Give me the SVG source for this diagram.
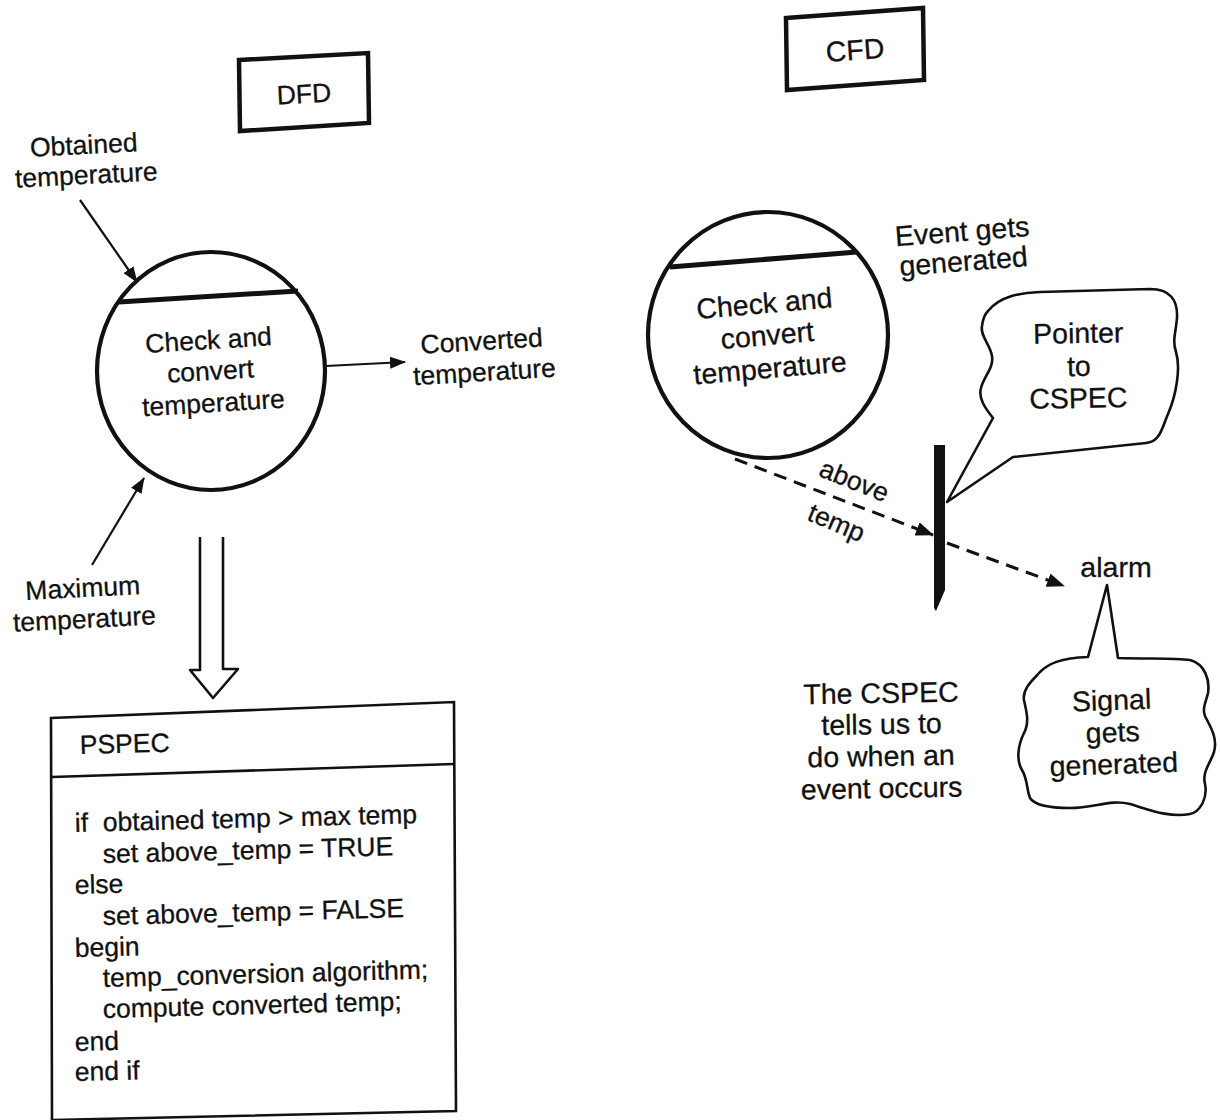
<svg xmlns="http://www.w3.org/2000/svg" width="1220" height="1120" viewBox="0 0 1220 1120">
  <style>
    text { font-family: "Liberation Sans", Arial, Helvetica, sans-serif; fill: #111; stroke: #111; stroke-width: 0.3; }
    .s { font-size: 26.5px; }
    .m { font-size: 28.5px; }
    .c { text-anchor: middle; }
    .ink { fill: none; stroke: #111; stroke-linejoin: round; }
    .box { fill: none; stroke: #111; stroke-width: 4.5; stroke-linejoin: miter; }
    .bubble { fill: none; stroke: #111; stroke-width: 2.6; stroke-linejoin: round; }
    .flow { stroke: #111; stroke-width: 2.2; fill: none; }
    .event { stroke: #111; stroke-width: 3; fill: none; stroke-dasharray: 13 8; }
  </style>
  <defs>
    <marker id="ah" viewBox="0 0 16 12" refX="15" refY="6" markerWidth="16" markerHeight="12" markerUnits="userSpaceOnUse" orient="auto">
      <path d="M0,0 L16,6 L0,12 z" fill="#111"/>
    </marker>
    <marker id="ahd" viewBox="0 0 18 14" refX="17" refY="7" markerWidth="18" markerHeight="14" markerUnits="userSpaceOnUse" orient="auto">
      <path d="M0,0 L18,7 L0,14 z" fill="#111"/>
    </marker>
  </defs>

  <rect x="0" y="0" width="1220" height="1120" fill="#ffffff"/>

  <!-- ===== Left half: data flow diagram ===== -->
  <g id="dfd-title">
    <polygon class="box" points="239,60 368,53 369,123 240,131"/>
    <text class="s c" x="304" y="103" transform="rotate(-3.1 304 95)">DFD</text>
  </g>

  <g id="dfd-obtained-label">
    <text class="s c" transform="rotate(-3 85 170)"><tspan x="85" y="154">Obtained</tspan><tspan x="86" y="184">temperature</tspan></text>
  </g>

  <g id="dfd-process">
    <ellipse class="ink" cx="211" cy="371" rx="114" ry="119" stroke-width="4.2"/>
    <line class="ink" x1="119" y1="302" x2="298" y2="291" stroke-width="5"/>
    <text class="s c" transform="rotate(-3.5 211 380)"><tspan x="211" y="349">Check and</tspan><tspan x="211" y="380">convert</tspan><tspan x="212" y="412">temperature</tspan></text>
  </g>

  <g id="dfd-converted-label">
    <text class="s c" transform="rotate(-3.5 483 365)"><tspan x="483" y="350">Converted</tspan><tspan x="484" y="381">temperature</tspan></text>
  </g>

  <g id="dfd-maximum-label">
    <text class="s c" transform="rotate(-3 84 612)"><tspan x="84" y="597">Maximum</tspan><tspan x="84" y="628">temperature</tspan></text>
  </g>

  <g id="pspec">
    <polygon points="51,718 454,702 456,1111 52,1120" fill="none" stroke="#111" stroke-width="2.6"/>
    <line x1="52" y1="777" x2="454" y2="764" stroke="#111" stroke-width="2.6"/>
    <text class="s" x="80" y="754" transform="rotate(-1.5 80 754)">PSPEC</text>
    <g class="s">
      <text x="75" y="832" transform="rotate(-1.5 75 832)" xml:space="preserve">if  obtained temp &gt; max temp</text>
      <text x="103" y="863" transform="rotate(-1.5 103 863)">set above_temp = TRUE</text>
      <text x="75" y="894" transform="rotate(-1.5 75 894)">else</text>
      <text x="103" y="925" transform="rotate(-1.5 103 925)">set above_temp = FALSE</text>
      <text x="75" y="957" transform="rotate(-1.5 75 957)">begin</text>
      <text x="103" y="987" transform="rotate(-1.5 103 987)">temp_conversion algorithm;</text>
      <text x="103" y="1018" transform="rotate(-1.5 103 1018)">compute converted temp;</text>
      <text x="75" y="1051" transform="rotate(-1.5 75 1051)">end</text>
      <text x="75" y="1081" transform="rotate(-1.5 75 1081)">end if</text>
    </g>
  </g>

  <!-- ===== Right half: control flow diagram ===== -->
  <g id="cfd-title">
    <polygon class="box" points="786,18 923,8 924,80 787,90"/>
    <text class="m c" x="855" y="60" transform="rotate(-4.2 855 50)">CFD</text>
  </g>

  <g id="cfd-event-label">
    <text class="m c" transform="rotate(-4.5 964 255)"><tspan x="964" y="241">Event gets</tspan><tspan x="963" y="271">generated</tspan></text>
  </g>

  <g id="cfd-process">
    <ellipse class="ink" cx="768" cy="335" rx="120" ry="123" stroke-width="4.2"/>
    <line class="ink" x1="670" y1="267" x2="857" y2="252" stroke-width="5"/>
    <text class="m c" transform="rotate(-5 768 345)"><tspan x="768" y="313">Check and</tspan><tspan x="768" y="345">convert</tspan><tspan x="768" y="378">temperature</tspan></text>
  </g>

  <g id="cspec-bar">
    <polygon points="934,445 945,445 945,590 936,611 934,608" fill="#111"/>
  </g>

  <g id="pointer-note">
    <path class="bubble" d="M988,311 C1000,296 1020,293 1040,292 L1150,289 C1170,289 1178,300 1177,318 C1176,332 1172,340 1176,352 C1181,368 1176,396 1168,414 C1162,428 1160,442 1146,443 L1013,457 L947,502 L993,418 C985,408 978,398 981,388 C984,376 994,368 992,356 C990,344 980,336 982,326 C983,318 985,314 988,311 Z"/>
    <text class="m c" transform="rotate(-1 1079 375)"><tspan x="1079" y="343">Pointer</tspan><tspan x="1079" y="376">to</tspan><tspan x="1078" y="408">CSPEC</tspan></text>
  </g>

  <g id="event-label">
    <text class="s c" x="851" y="489" transform="rotate(22 851 489)">above</text>
    <text class="s c" x="833" y="531" transform="rotate(23 833 531)">temp</text>
  </g>

  <g id="alarm-label">
    <text class="m c" x="1116" y="577">alarm</text>
  </g>

  <g id="signal-note">
    <path class="bubble" d="M1088,657 L1107,585 L1118,658 C1150,659 1175,658 1190,660 C1205,664 1210,680 1208,693 C1206,702 1202,708 1205,716 C1210,726 1218,738 1214,752 C1210,764 1202,772 1205,784 C1208,798 1200,812 1190,814 C1170,818 1150,810 1130,804 C1110,799 1095,808 1070,808 C1050,808 1035,806 1030,798 C1026,788 1028,780 1022,770 C1016,760 1018,745 1024,733 C1030,722 1026,710 1024,700 C1022,688 1035,678 1040,672 C1048,664 1060,658 1088,657 Z"/>
    <text class="m c" transform="rotate(-2 1113 742)"><tspan x="1113" y="710">Signal</tspan><tspan x="1113" y="742">gets</tspan><tspan x="1113" y="774">generated</tspan></text>
  </g>

  <g id="cspec-note">
    <text class="m c" transform="rotate(-1 882 750)"><tspan x="882" y="703">The CSPEC</tspan><tspan x="882" y="734">tells us to</tspan><tspan x="881" y="766">do when an</tspan><tspan x="881" y="798">event occurs</tspan></text>
  </g>

  <!-- ===== Connectors ===== -->
  <g id="connectors">
    <line class="flow" x1="80" y1="200" x2="137" y2="282" marker-end="url(#ah)"/>
    <line class="flow" x1="92" y1="565" x2="144" y2="478" marker-end="url(#ah)"/>
    <line class="flow" x1="326" y1="366" x2="405" y2="362" stroke-width="2.6" marker-end="url(#ah)"/>
    <!-- refinement arrow from process to its specification -->
    <path class="ink" stroke-width="2.6" d="M200,537 L200,670 L190,670 L213,698 L238,669 L223,669 L223,537"/>
    <line class="event" x1="735" y1="459" x2="933" y2="535" marker-end="url(#ahd)"/>
    <line class="event" x1="947" y1="543" x2="1064" y2="586" marker-end="url(#ahd)"/>
  </g>
</svg>
